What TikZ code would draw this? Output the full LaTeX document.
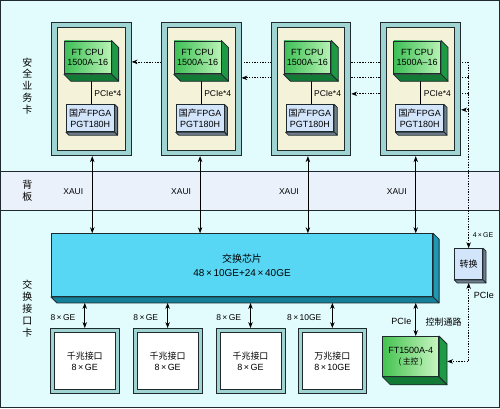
\documentclass[tikz,border=0pt]{standalone}
\usepackage{fontspec}
\setmainfont{Liberation Sans}
\newfontfamily\cjk{Noto Sans CJK SC}
\usetikzlibrary{arrows.meta}
\pgfdeclarelayer{back}
\pgfsetlayers{back,main}
\newcommand{\tms}{\,×\,}

\begin{document}
\begin{tikzpicture}[x=1pt,y=-1pt,
  box/.style={draw=edge,line width=0.8pt,inner sep=0pt,align=center},
  cardout/.style={box,fill=cardteal,minimum width=80,minimum height=134},
  cardin/.style={box,fill=cardbeige,minimum width=68,minimum height=124},
  cpubox/.style={box,left color=cpugreen,right color=cpulight,minimum width=47,minimum height=33,font=\fontsize{9}{10.5}\selectfont},
  fpgabox/.style={box,fill=chipblue,minimum width=48,minimum height=27,font=\fontsize{9}{10.5}\selectfont},
  portout/.style={box,fill=cardteal,minimum width=69,minimum height=65},
  portin/.style={box,fill=white,minimum width=61,minimum height=57,font=\fontsize{9}{11}\selectfont},
  side/.style={draw=edge,line width=0.8pt,line join=round},
  dbl/.style={line width=0.8pt,{Stealth[length=6pt,width=4.5pt]}-{Stealth[length=6pt,width=4.5pt]}},
  bus/.style={line width=0.8pt,dash pattern=on 1.4pt off 1.3pt,-{Stealth[length=6pt,width=4.5pt]}},
  lbl/.style={font=\fontsize{8.5}{10}\selectfont,inner sep=0pt},
  vlbl/.style={font=\cjk\fontsize{10}{12}\selectfont,align=center,inner sep=0pt}]
\definecolor{paleblue}{HTML}{E2FBFD}
\definecolor{bandblue}{HTML}{EBF1FB}
\definecolor{edge}{HTML}{1F2A2E}
\definecolor{cardteal}{HTML}{9FD4D2}
\definecolor{cardbeige}{HTML}{F5F2DA}
\definecolor{cpugreen}{HTML}{3DBF55}
\definecolor{cpulight}{HTML}{B8F3B5}
\definecolor{cpuside}{HTML}{1E9A45}
\definecolor{cpubottom}{HTML}{137A35}
\definecolor{chipblue}{HTML}{D3E5FA}
\definecolor{slab}{HTML}{6F7F8E}
\definecolor{chipcyan}{HTML}{58D7F4}
\definecolor{chipside}{HTML}{1E98B4}
\definecolor{chipdark}{HTML}{137F98}
\definecolor{ftgreen}{HTML}{45C350}
\definecolor{ftlight}{HTML}{C9F6C2}

\begin{pgfonlayer}{back}
\fill[paleblue] (0,0) rectangle (500,409);
\fill[bandblue] (0,172) rectangle (500,211);
\draw[edge,line width=0.8pt] (0,172) -- (500,172) (0,211) -- (500,211);
\end{pgfonlayer}
\draw[edge,line width=1pt] (0.5,0.5) rectangle (499.5,408.5);

% side titles
\node[vlbl,font=\cjk\fontsize{10}{11.7}\selectfont] (lsec) at (27,86) {安\\全\\业\\务\\卡};
\node[vlbl] (lbp) at (27,191) {背\\板};
\node[vlbl] (lsw) at (27,309) {交\\换\\接\\口\\卡};

% service cards
\foreach \i/\cx in {1/91,2/201,3/311,4/421}
{ \node[cardout] (card\i) at (\cx,89) {};
  \node[cardin] (inner\i) at (\cx,89) {};
  \node[cpubox] (cpu\i) at (\cx-3.5,57.5) {FT CPU\\1500A–16};
  \node[fpgabox] (fpga\i) at (\cx-1,118.5) {{\cjk 国产}FPGA\\PGT180H};
  \draw[line width=0.8pt] (card\i |- cpu\i.south) -- (card\i |- fpga\i.north);
  \path[side,fill=cpuside] (cpu\i.north east) -- ++(7,7) -- ([shift={(7,7)}]cpu\i.south east) -- (cpu\i.south east) -- cycle;
  \path[side,fill=cpubottom] (cpu\i.south west) -- (cpu\i.south east) -- ++(7,7) -- ([shift={(7,7)}]cpu\i.south west) -- cycle;
  \path[side,fill=slab] (fpga\i.north east) -- ++(3,3) -- ([shift={(3,3)}]fpga\i.south east) -- (fpga\i.south east) -- cycle;
  \path[side,fill=slab] (fpga\i.south west) -- (fpga\i.south east) -- ++(3,3) -- ([shift={(3,3)}]fpga\i.south west) -- cycle;
  \node[lbl,anchor=west] (pcie\i) at (\cx+3,94) {PCIe*4};
}

% switch chip
\node[box,fill=chipcyan,minimum width=382,minimum height=63,font=\fontsize{10}{14}\selectfont] (chip) at (242,265.5) {{\cjk 交换芯片}\\48\tms 10GE+24\tms 40GE};
\path[side,fill=chipside] (chip.north east) -- ++(6,6) -- ([shift={(6,6)}]chip.south east) -- (chip.south east) -- cycle;
\path[side,fill=chipdark] (chip.south west) -- (chip.south east) -- ++(6,6) -- ([shift={(6,6)}]chip.south west) -- cycle;
\coordinate (chipbot) at ([shift={(0,6)}]chip.south);

\foreach \i/\ax in {1/92,2/200,3/308,4/416}
{ \coordinate (xa\i) at (\ax,200);
  \node[lbl] (xaui\i) at (\ax-19,192) {XAUI};
  \draw[dbl] (card\i.south -| xa\i) -- (chip.north -| xa\i);
}

% interface boards
\foreach \i/\cx/\kind/\rate/\lx in {1/84.5/千兆接口/8\tms GE/50,2/167.5/千兆接口/8\tms GE/133,3/250.5/千兆接口/8\tms GE/216,4/332.5/万兆接口/8\tms 10GE/287}
{ \node[portout] (port\i) at (\cx,361.5) {};
  \node[portin] (portin\i) at (\cx,361.5) {{\cjk \kind}\\\rate};
  \draw[dbl] (chipbot -| port\i) -- (port\i.north);
  \node[lbl,anchor=west] (rate\i) at (\lx,318) {\rate};
}

% main control
\node[box,left color=ftgreen,right color=ftlight,minimum width=56,minimum height=40,font=\fontsize{9}{10.5}\selectfont] (ft) at (411,357) {FT1500A-4\\{\cjk\fontsize{8}{10}\selectfont (\,主控\,)}};
\path[side,fill=cpuside] (ft.north east) -- ++(8,8) -- ([shift={(8,8)}]ft.south east) -- (ft.south east) -- cycle;
\path[side,fill=cpubottom] (ft.south west) -- (ft.south east) -- ++(8,8) -- ([shift={(8,8)}]ft.south west) -- cycle;
\coordinate (ftax) at (416,330);
\coordinate (ftside) at ([shift={(8,5)}]ft.east);
\draw[dbl] (chipbot -| ftax) -- (ft.north -| ftax);
\node[lbl,font=\fontsize{9}{10}\selectfont] (pcieft) at (401.5,322) {PCIe};
\node[lbl,font=\cjk\fontsize{9}{10}\selectfont] (ctrl) at (444,323) {控制通路};

% converter
\node[box,fill=chipblue,minimum width=28,minimum height=31,font=\cjk\fontsize{9}{10}\selectfont] (conv) at (469,264.5) {转换};
\path[side,fill=slab] (conv.north east) -- ++(3,3) -- ([shift={(3,3)}]conv.south east) -- (conv.south east) -- cycle;
\path[side,fill=slab] (conv.south west) -- (conv.south east) -- ++(3,3) -- ([shift={(3,3)}]conv.south west) -- cycle;
\coordinate (convbot) at ([shift={(0,3)}]conv.south);
\node[lbl,anchor=west,font=\fontsize{7}{8}\selectfont] (ge4) at (473,235) {4\tms GE};
\node[lbl,anchor=west,font=\fontsize{9}{10}\selectfont] (pcieconv) at (474,296) {PCIe};

% management bus
\begin{pgfonlayer}{back}
\foreach \i/\by in {1/62,2/78,3/94,4/110}
{ \coordinate (tap\i) at (469,\by);
  \draw[bus] (tap\i) -- (card\i.east |- tap\i);
}
\draw[bus] (tap1) -- (conv.north);
\draw[bus,{Stealth[length=6pt,width=4.5pt]}-{Stealth[length=6pt,width=4.5pt]}] (convbot) |- (ftside);
\end{pgfonlayer}
\end{tikzpicture}
\end{document}
